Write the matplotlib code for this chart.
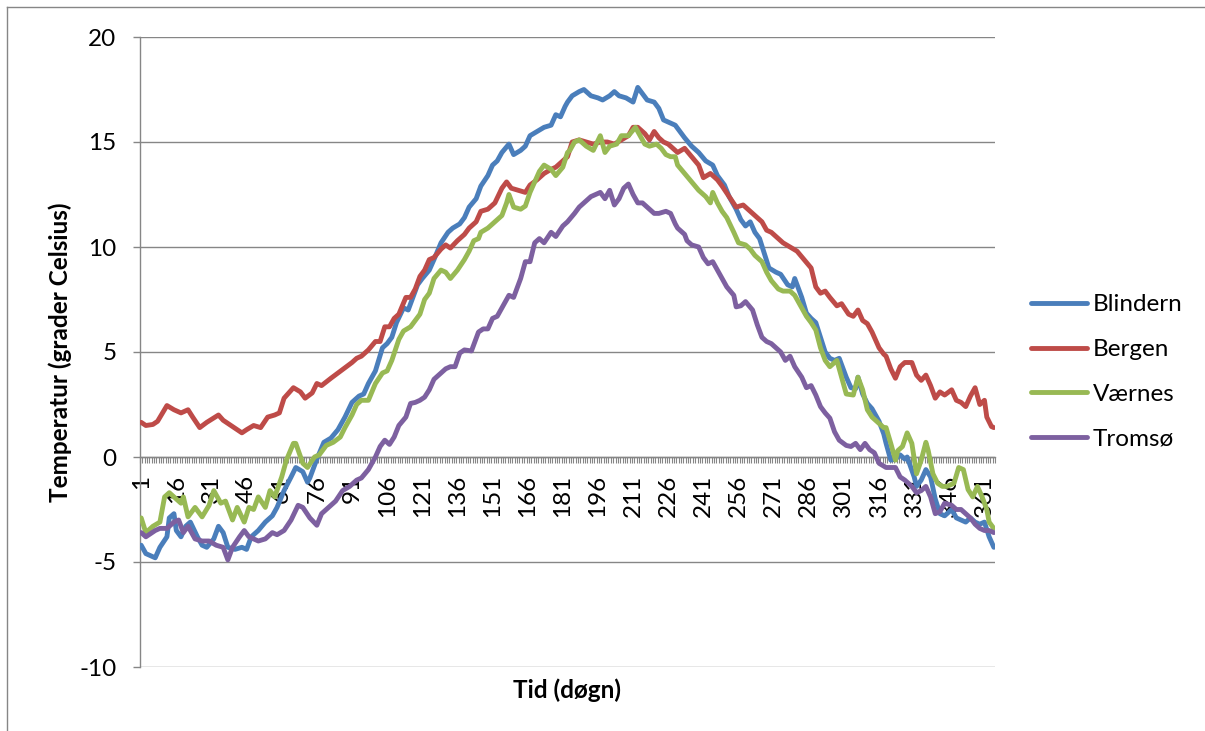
import matplotlib
matplotlib.use("Agg")
import matplotlib.pyplot as plt
import numpy as np
from matplotlib.ticker import FixedLocator, FuncFormatter
from matplotlib.lines import Line2D

plt.rcParams['font.family'] = ['Lato', 'DejaVu Sans']
plt.rcParams['axes.unicode_minus'] = False

# Daily mean temperature (deg C) through the year for four stations
blindern_days = [1, 3, 7, 9, 12, 13, 15, 16, 18, 20, 22, 25, 27, 29, 32, 34, 36, 38, 41, 44,
                 46, 48, 51, 54, 57, 59, 62, 65, 67, 70, 72, 73, 76, 79, 82, 85, 88, 91, 94, 96,
                 98, 101, 104, 106, 108, 110, 113, 115, 117, 119, 121, 124, 126, 129, 132, 134, 137, 139, 141, 144,
                 146, 149, 151, 153, 155, 158, 160, 163, 165, 167, 170, 173, 176, 178, 180, 182, 183, 185, 188, 190,
                 193, 196, 198, 201, 203, 205, 208, 211, 213, 215, 217, 220, 222, 224, 227, 229, 233, 236, 239, 242,
                 245, 247, 250, 252, 255, 257, 259, 261, 263, 265, 267, 269, 272, 274, 277, 279, 280, 283, 285, 287,
                 289, 291, 293, 295, 297, 299, 302, 304, 306, 307, 309, 311, 313, 316, 318, 319, 321, 323, 325, 327,
                 328, 331, 332, 334, 336, 338, 340, 342, 344, 347, 349, 351, 353, 355, 357, 359, 361, 363, 365]
blindern_temp = [-4.2, -4.6, -4.8, -4.3, -3.8, -2.9, -2.7, -3.5, -3.8, -3.3, -3.1, -3.8, -4.2, -4.3, -3.9, -3.3, -3.6, -4.3, -4.4, -4.3,
                 -4.4, -3.8, -3.5, -3.1, -2.8, -2.4, -1.6, -0.95, -0.5, -0.7, -1.2, -1.0, -0.1, 0.7, 0.9, 1.3, 1.9, 2.6, 2.9, 3.0,
                 3.5, 4.1, 5.2, 5.4, 5.7, 6.4, 7.1, 7.0, 7.6, 8.2, 8.5, 8.9, 9.4, 10.2, 10.7, 10.9, 11.1, 11.4, 11.9, 12.3,
                 12.9, 13.4, 13.9, 14.1, 14.5, 14.9, 14.4, 14.6, 14.8, 15.3, 15.5, 15.7, 15.8, 16.3, 16.2, 16.7, 16.9, 17.2, 17.4, 17.5,
                 17.2, 17.1, 17.0, 17.2, 17.4, 17.2, 17.1, 16.9, 17.6, 17.3, 17.0, 16.9, 16.6, 16.05, 15.9, 15.8, 15.2, 14.8, 14.5, 14.1,
                 13.9, 13.4, 12.95, 12.4, 11.8, 11.3, 11.0, 11.2, 10.7, 10.4, 9.7, 9.0, 8.8, 8.7, 8.2, 8.1, 8.5, 7.6, 6.85, 6.6,
                 6.4, 5.7, 5.0, 4.7, 4.6, 4.7, 3.8, 3.3, 3.25, 3.8, 3.0, 2.55, 2.3, 1.7, 1.1, 0.65, -0.15, -0.1, 0.1, -0.1,
                 0.0, -0.95, -1.4, -1.1, -0.6, -0.95, -2.0, -2.7, -2.8, -2.5, -2.9, -3.0, -3.1, -2.9, -3.1, -3.2, -3.1, -3.8, -4.3]

bergen_days = [1, 3, 6, 8, 12, 15, 18, 21, 23, 26, 29, 34, 36, 40, 44, 46, 49, 52, 55, 58,
               60, 62, 64, 66, 69, 71, 74, 76, 78, 82, 85, 88, 91, 93, 95, 98, 101, 103, 105, 107,
               109, 111, 114, 116, 118, 120, 122, 124, 126, 129, 131, 133, 136, 139, 141, 144, 146, 149, 152, 155,
               157, 159, 162, 165, 167, 170, 173, 176, 178, 181, 183, 185, 188, 191, 194, 197, 200, 203, 206, 209,
               211, 213, 216, 218, 220, 222, 224, 226, 229, 230, 233, 236, 239, 241, 244, 247, 249, 252, 255, 258,
               261, 263, 266, 268, 270, 273, 275, 278, 281, 284, 287, 289, 291, 293, 295, 298, 300, 303, 305, 307,
               309, 311, 313, 316, 318, 319, 321, 323, 325, 327, 330, 332, 334, 336, 338, 340, 342, 344, 347, 349,
               351, 353, 355, 357, 359, 361, 362, 364, 365]
bergen_temp = [1.65, 1.5, 1.55, 1.7, 2.45, 2.25, 2.1, 2.25, 1.9, 1.4, 1.65, 2.0, 1.75, 1.45, 1.15, 1.3, 1.5, 1.4, 1.9, 2.0,
               2.1, 2.8, 3.05, 3.3, 3.1, 2.8, 3.05, 3.5, 3.4, 3.75, 4.0, 4.25, 4.5, 4.7, 4.8, 5.1, 5.5, 5.5, 6.2, 6.2,
               6.6, 6.8, 7.6, 7.6, 8.0, 8.6, 8.9, 9.4, 9.5, 9.9, 10.1, 9.95, 10.3, 10.6, 10.9, 11.2, 11.7, 11.8, 12.1, 12.8,
               13.1, 12.8, 12.7, 12.6, 12.95, 13.2, 13.5, 13.7, 13.8, 14.1, 14.3, 15.0, 15.1, 15.0, 14.9, 15.0, 15.0, 14.9, 15.1, 15.3,
               15.7, 15.7, 15.4, 15.1, 15.5, 15.2, 15.0, 14.9, 14.6, 14.5, 14.7, 14.3, 13.9, 13.3, 13.5, 13.2, 12.9, 12.4, 11.9, 12.0,
               11.7, 11.5, 11.2, 10.8, 10.7, 10.4, 10.2, 10.0, 9.8, 9.4, 9.0, 8.1, 7.8, 7.9, 7.6, 7.2, 7.3, 6.8, 6.7, 7.0,
               6.5, 6.35, 5.95, 5.2, 4.9, 4.8, 4.2, 3.75, 4.3, 4.5, 4.5, 3.9, 3.65, 3.9, 3.4, 2.8, 3.1, 2.95, 3.2, 2.7,
               2.6, 2.4, 2.9, 3.3, 2.5, 2.7, 1.9, 1.45, 1.4]

vaernes_days = [1, 3, 6, 9, 11, 13, 15, 18, 19, 21, 24, 27, 30, 32, 35, 37, 40, 42, 45, 47,
                49, 51, 54, 56, 58, 61, 63, 66, 67, 70, 72, 75, 77, 80, 83, 86, 88, 91, 93, 95,
                98, 101, 104, 106, 108, 111, 113, 116, 118, 120, 122, 124, 126, 129, 131, 133, 136, 139, 141, 143,
                145, 146, 149, 152, 155, 157, 158, 160, 163, 165, 167, 169, 171, 173, 176, 178, 181, 183, 184, 186,
                188, 191, 194, 197, 199, 201, 204, 206, 209, 212, 214, 216, 218, 221, 223, 225, 227, 229, 230, 233,
                236, 239, 242, 244, 245, 247, 249, 251, 254, 256, 259, 261, 263, 266, 268, 270, 273, 275, 278, 280,
                283, 285, 287, 289, 291, 293, 295, 297, 298, 300, 302, 305, 307, 309, 311, 313, 315, 318, 319, 321,
                323, 324, 326, 328, 330, 332, 334, 336, 337, 339, 341, 343, 345, 348, 350, 352, 354, 356, 358, 360,
                362, 363, 365]
vaernes_temp = [-2.9, -3.6, -3.3, -3.1, -1.9, -1.7, -1.9, -2.2, -1.9, -2.85, -2.4, -2.85, -2.3, -1.6, -2.2, -2.1, -3.0, -2.4, -3.1, -2.4,
                -2.5, -1.9, -2.4, -1.6, -1.9, -0.95, -0.15, 0.65, 0.65, -0.3, -0.5, 0.0, 0.1, 0.55, 0.7, 0.95, 1.4, 2.0, 2.5, 2.7,
                2.7, 3.5, 4.0, 4.1, 4.6, 5.6, 6.0, 6.2, 6.5, 6.8, 7.5, 7.8, 8.5, 8.9, 8.8, 8.5, 8.9, 9.4, 9.8, 10.3,
                10.4, 10.7, 10.9, 11.2, 11.5, 12.1, 12.5, 11.9, 11.8, 11.95, 12.6, 13.1, 13.6, 13.9, 13.7, 13.4, 13.8, 14.5, 14.6, 15.0,
                15.1, 14.8, 14.6, 15.3, 14.5, 14.8, 14.9, 15.3, 15.3, 15.7, 15.3, 14.9, 14.8, 14.9, 14.7, 14.4, 14.3, 14.3, 13.9, 13.5,
                13.1, 12.7, 12.4, 12.1, 12.6, 12.1, 11.7, 11.4, 10.7, 10.2, 10.1, 9.9, 9.6, 9.3, 8.8, 8.4, 8.0, 7.9, 7.9, 7.7,
                7.1, 6.7, 6.4, 6.05, 5.2, 4.6, 4.3, 4.5, 4.6, 3.8, 3.0, 2.95, 3.8, 3.2, 2.25, 1.9, 1.7, 1.4, 1.4, 0.65,
                -0.15, 0.3, 0.5, 1.15, 0.65, -0.8, -0.15, 0.7, 0.3, -0.8, -1.25, -1.4, -1.4, -1.25, -0.5, -0.6, -1.55, -1.9, -1.4, -1.9,
                -2.5, -3.1, -3.4]

tromso_days = [1, 3, 7, 9, 12, 15, 17, 19, 21, 24, 27, 30, 33, 36, 38, 40, 43, 45, 47, 51,
               54, 57, 59, 62, 65, 68, 70, 73, 76, 78, 81, 84, 87, 90, 93, 95, 98, 101, 103, 105,
               107, 109, 111, 114, 116, 118, 120, 122, 124, 126, 129, 131, 133, 135, 137, 139, 142, 145, 147, 149,
               151, 153, 156, 158, 160, 163, 165, 167, 169, 171, 173, 176, 178, 181, 183, 186, 188, 190, 193, 195,
               197, 199, 201, 203, 205, 207, 209, 211, 213, 215, 217, 220, 222, 225, 227, 229, 230, 233, 234, 236,
               239, 241, 243, 245, 247, 249, 251, 254, 255, 257, 259, 262, 264, 266, 268, 270, 273, 274, 276, 278,
               280, 283, 285, 287, 289, 291, 293, 295, 297, 299, 302, 304, 306, 308, 310, 312, 314, 316, 319, 321,
               323, 325, 327, 330, 332, 334, 336, 338, 340, 342, 344, 347, 349, 351, 353, 355, 357, 359, 361, 363,
               365]
tromso_temp = [-3.6, -3.8, -3.5, -3.4, -3.4, -3.1, -3.0, -3.6, -3.3, -3.9, -4.0, -4.0, -4.2, -4.3, -4.9, -4.3, -3.8, -3.5, -3.8, -4.0,
               -3.9, -3.6, -3.7, -3.5, -3.0, -2.3, -2.4, -2.9, -3.25, -2.7, -2.4, -2.1, -1.6, -1.4, -1.1, -1.0, -0.6, 0.0, 0.5, 0.8,
               0.6, 0.95, 1.5, 1.9, 2.55, 2.6, 2.7, 2.85, 3.2, 3.7, 4.0, 4.2, 4.3, 4.3, 4.95, 5.1, 5.05, 5.95, 6.1, 6.1,
               6.6, 6.7, 7.3, 7.7, 7.6, 8.5, 9.3, 9.3, 10.2, 10.4, 10.2, 10.7, 10.5, 11.0, 11.2, 11.6, 11.9, 12.1, 12.4, 12.5,
               12.6, 12.3, 12.7, 12.0, 12.3, 12.8, 13.0, 12.5, 12.1, 12.1, 11.9, 11.6, 11.6, 11.7, 11.6, 11.1, 10.9, 10.6, 10.3, 10.1,
               10.0, 9.5, 9.2, 9.3, 8.9, 8.5, 8.1, 7.7, 7.15, 7.2, 7.4, 7.0, 6.3, 5.7, 5.5, 5.4, 5.1, 5.0, 4.6, 4.8,
               4.3, 3.8, 3.3, 3.4, 2.95, 2.4, 2.1, 1.85, 1.2, 0.8, 0.55, 0.5, 0.65, 0.35, 0.65, 0.35, 0.2, -0.3, -0.5, -0.5,
               -0.5, -0.95, -1.1, -1.4, -1.7, -1.6, -1.4, -1.9, -2.7, -2.6, -2.2, -2.3, -2.5, -2.5, -2.7, -2.9, -3.2, -3.4, -3.5, -3.5,
               -3.6]

series_names = ["Blindern", "Bergen", "Værnes", "Tromsø"]
series_days = [blindern_days, bergen_days, vaernes_days, tromso_days]
series_temp = [blindern_temp, bergen_temp, vaernes_temp, tromso_temp]
series_colors = ["#4A7EBB", "#BE4B48", "#98B954", "#7D60A0"]

label_days = list(range(1, 366, 15))
y_ticks = [-10, -5, 0, 5, 10, 15, 20]

W, H = 1205, 731
fig = plt.figure(figsize=(W / 100, H / 100), dpi=100)
fig.patch.set_facecolor("white")

ax = fig.add_axes([140 / W, 1 - 667 / H, 855 / W, 630 / H])
axis_gray = "#868686"
lw_series = 3.5
fs = 17.5

for days, temp, name, col in zip(series_days, series_temp, series_names, series_colors):
    ax.plot(days, temp, color=col, lw=lw_series, label=name, zorder=3,
            solid_joinstyle="round", solid_capstyle="round")

ax.set_xlim(0.5, 365.5)
ax.set_ylim(-10, 20)

# horizontal gridlines
ax.set_yticks(y_ticks)
ax.yaxis.set_major_formatter(FuncFormatter(lambda v, p: f"{int(v)}"))
ax.yaxis.grid(True, color=axis_gray, lw=1.0)
ax.set_axisbelow(True)

for s in ("top", "right"):
    ax.spines[s].set_visible(False)
ax.spines["left"].set_color(axis_gray)
ax.spines["left"].set_linewidth(1.0)
ax.spines["bottom"].set_position(("data", 0))
ax.spines["bottom"].set_color(axis_gray)
ax.spines["bottom"].set_linewidth(1.0)

# category axis: a tick at every day boundary, labels every 15 days
ax.xaxis.set_major_locator(FixedLocator(label_days))
ax.set_xticklabels([str(d) for d in label_days], rotation=90)
ax.xaxis.set_minor_locator(FixedLocator(np.arange(0.5, 366, 1.0)))
ax.tick_params(axis="x", which="major", length=0, pad=13, labelsize=fs, labelcolor="black")
ax.tick_params(axis="x", which="minor", length=4.5, width=0.8, color=axis_gray, direction="out")
ax.tick_params(axis="y", which="major", length=5, width=1.0, color=axis_gray, pad=12,
               labelsize=fs, labelcolor="black", direction="out")

fig.text(567 / W, 1 - 690 / H, "Tid (døgn)", ha="center", va="center",
         fontsize=fs, fontweight="bold")
fig.text(60 / W, 1 - 352 / H, "Temperatur (grader Celsius)", ha="center", va="center",
         rotation=90, fontsize=fs, fontweight="bold")

handles = [Line2D([], [], color=c, lw=lw_series, solid_capstyle="round") for c in series_colors]
fig.legend(handles, series_names, loc="center left", bbox_to_anchor=(1031 / W, 1 - 372 / H),
           frameon=False, fontsize=fs, handlelength=2.3, handletextpad=0.25,
           labelspacing=0.98, borderpad=0, borderaxespad=0)

# outer chart frame
fig.add_artist(Line2D([7 / W, 1.0], [1 - 7 / H, 1 - 7 / H], transform=fig.transFigure,
                      color=axis_gray, lw=1.0))
fig.add_artist(Line2D([7 / W, 7 / W], [0.0, 1 - 7 / H], transform=fig.transFigure,
                      color=axis_gray, lw=1.0))

fig.savefig("out.png", dpi=100, facecolor="white")
